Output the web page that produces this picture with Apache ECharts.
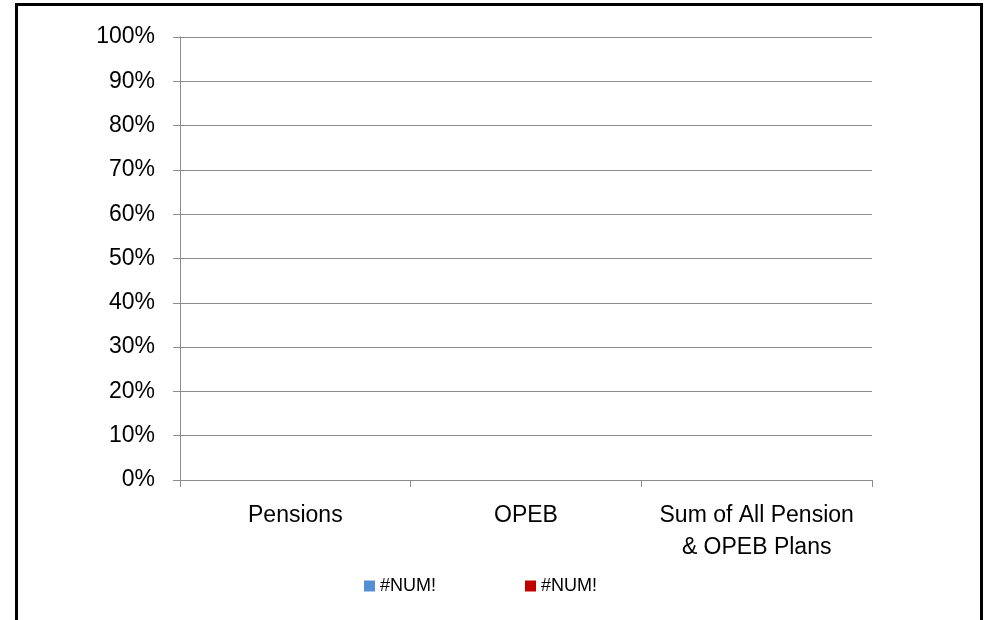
<!DOCTYPE html>
<html>
<head>
<meta charset="utf-8">
<script src="https://cdn.jsdelivr.net/npm/echarts@6/dist/echarts.min.js"></script>
<style>
  body { margin: 0; background: #fff; }
  .frame {
    position: absolute;
    left: 15px;
    top: 3px;
    width: 962px;
    height: 640px;
    border: 3px solid #000;
    box-sizing: content-box;
  }
  #main { position: absolute; left: 0; top: 0; width: 984px; height: 620px; }
</style>
</head>
<body>
<div class="frame"></div>
<div id="main"></div>
<script>
  // categories and series (values come out as #NUM! in the source, so nothing is drawn)
  var categories = ['Pensions', 'OPEB', 'Sum of All Pension\n& OPEB Plans']
  var seriesKeys = ['s1', 's2']
  var legendLabels = ['#NUM!', '#NUM!']
  var series1 = [null, null, null]
  var series2 = [null, null, null]
  var yTicks = [0, 0.1, 0.2, 0.3, 0.4, 0.5, 0.6, 0.7, 0.8, 0.9, 1]

  var font = 'Liberation Sans, Arial, sans-serif'
  var axisGray = '#8c8c8c'

  var chart = echarts.init(document.getElementById('main'))
  var option = {
    animation: false,
    grid: { left: 180, right: 112, top: 37, bottom: 140 },
    legend: {
      left: 359,
      top: 572,
      icon: 'rect',
      itemWidth: 11,
      itemHeight: 11,
      itemGap: 89,
      data: seriesKeys,
      formatter: function (name) {
        return legendLabels[seriesKeys.indexOf(name)]
      },
      textStyle: { fontFamily: font, fontSize: 18, color: '#000' },
    },
    xAxis: {
      type: 'category',
      data: categories,
      axisLine: { lineStyle: { color: axisGray, width: 1 } },
      axisTick: { show: true, interval: 0, length: 7, lineStyle: { color: axisGray } },
      axisLabel: {
        interval: 0,
        margin: 20,
        fontFamily: font,
        fontSize: 23,
        lineHeight: 32,
        color: '#000',
        align: 'center',
      },
    },
    yAxis: {
      type: 'value',
      min: yTicks[0],
      max: yTicks[yTicks.length - 1],
      interval: 0.1,
      axisLine: { show: true, lineStyle: { color: axisGray, width: 1 } },
      axisTick: { show: true, length: 7, lineStyle: { color: axisGray } },
      splitLine: { show: true, lineStyle: { color: axisGray, width: 1 } },
      axisLabel: {
        margin: 25,
        fontFamily: font,
        fontSize: 23,
        color: '#000',
        formatter: function (v) {
          return Math.round(v * 100) + '%'
        },
      },
    },
    series: [
      {
        name: seriesKeys[0],
        type: 'bar',
        stack: 'total',
        itemStyle: { color: '#558ed5' },
        data: series1,
      },
      {
        name: seriesKeys[1],
        type: 'bar',
        stack: 'total',
        itemStyle: { color: '#c00000' },
        data: series2,
      },
    ],
  }
  chart.setOption(option)
</script>
</body>
</html>
